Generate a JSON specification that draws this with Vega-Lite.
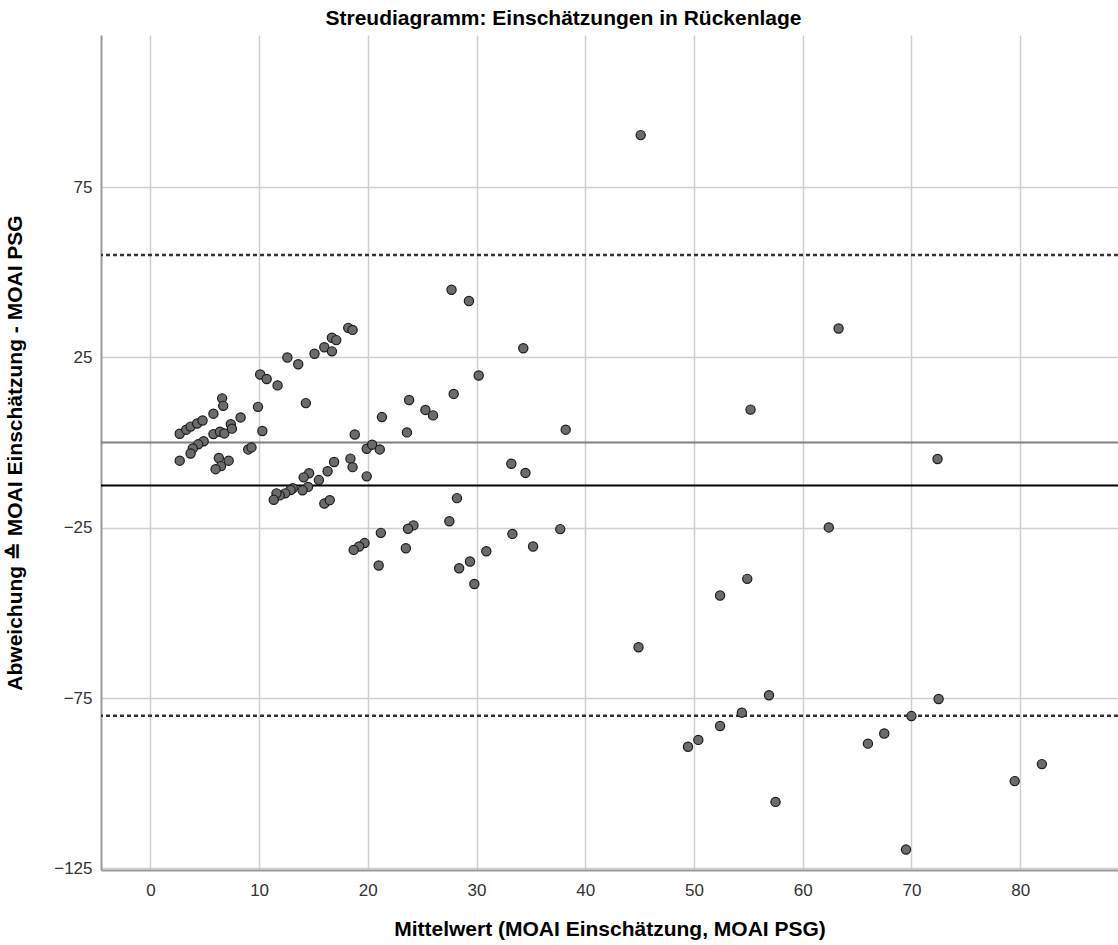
{
  "$schema": "https://vega.github.io/schema/vega-lite/v6.json",
  "width": 1017,
  "height": 835,
  "autosize": {"type": "none"},
  "padding": {"left": 101, "top": 35, "right": 0, "bottom": 75},
  "background": "white",
  "title": {
    "text": "Streudiagramm: Einschätzungen in Rückenlage",
    "font": "Liberation Sans",
    "fontSize": 21,
    "fontWeight": "bold",
    "color": "#000000",
    "anchor": "middle",
    "dx": -46,
    "offset": 6
  },
  "datasets": {
    "points": [
      {"m": 2.7, "d": 2.6}, {"m": 3.3, "d": 3.8}, {"m": 3.7, "d": 4.7}, {"m": 4.3, "d": 5.6}, {"m": 4.8, "d": 6.5},
      {"m": 5.8, "d": 8.5}, {"m": 6.6, "d": 13.0}, {"m": 6.7, "d": 10.8}, {"m": 8.3, "d": 7.4}, {"m": 9.9, "d": 10.5},
      {"m": 10.1, "d": 20.0}, {"m": 10.7, "d": 18.7}, {"m": 11.7, "d": 16.8}, {"m": 12.6, "d": 25.0}, {"m": 13.6, "d": 23.0},
      {"m": 15.1, "d": 26.1}, {"m": 16.0, "d": 28.0}, {"m": 16.7, "d": 30.8}, {"m": 17.1, "d": 30.1}, {"m": 16.7, "d": 26.8},
      {"m": 18.2, "d": 33.7}, {"m": 18.6, "d": 33.1}, {"m": 14.3, "d": 11.6}, {"m": 10.3, "d": 3.4}, {"m": 21.3, "d": 7.5},
      {"m": 18.8, "d": 2.4}, {"m": 5.8, "d": 2.5}, {"m": 6.4, "d": 3.2}, {"m": 6.8, "d": 2.7}, {"m": 7.4, "d": 5.4},
      {"m": 7.5, "d": 4.1}, {"m": 4.9, "d": 0.4}, {"m": 4.4, "d": -0.5}, {"m": 3.9, "d": -1.7}, {"m": 3.7, "d": -3.2},
      {"m": 2.7, "d": -5.3}, {"m": 6.3, "d": -4.5}, {"m": 6.5, "d": -6.9}, {"m": 6.0, "d": -7.8}, {"m": 7.2, "d": -5.3},
      {"m": 9.0, "d": -2.0}, {"m": 9.3, "d": -1.4}, {"m": 19.9, "d": -1.8}, {"m": 20.4, "d": -0.6}, {"m": 21.1, "d": -2.0},
      {"m": 18.4, "d": -4.7}, {"m": 18.6, "d": -7.2}, {"m": 19.9, "d": -9.9}, {"m": 16.9, "d": -5.7}, {"m": 16.3, "d": -8.4},
      {"m": 15.5, "d": -11.0}, {"m": 14.6, "d": -9.0}, {"m": 14.1, "d": -10.2}, {"m": 14.5, "d": -13.0}, {"m": 14.0, "d": -14.0},
      {"m": 13.1, "d": -13.4}, {"m": 12.9, "d": -13.9}, {"m": 12.4, "d": -14.9}, {"m": 11.9, "d": -15.5}, {"m": 11.6, "d": -14.9},
      {"m": 11.35, "d": -16.8}, {"m": 16.0, "d": -17.9}, {"m": 16.5, "d": -16.9}, {"m": 21.2, "d": -26.5}, {"m": 19.7, "d": -29.5},
      {"m": 19.2, "d": -30.5}, {"m": 18.7, "d": -31.5}, {"m": 21.0, "d": -36.1}, {"m": 27.7, "d": 44.9}, {"m": 29.3, "d": 41.6},
      {"m": 34.3, "d": 27.7}, {"m": 30.2, "d": 19.7}, {"m": 27.9, "d": 14.3}, {"m": 23.8, "d": 12.5}, {"m": 25.3, "d": 9.6},
      {"m": 26.0, "d": 8.0}, {"m": 23.6, "d": 3.0}, {"m": 38.2, "d": 3.8}, {"m": 33.2, "d": -6.2}, {"m": 34.5, "d": -8.9},
      {"m": 28.2, "d": -16.3}, {"m": 27.5, "d": -23.1}, {"m": 24.2, "d": -24.3}, {"m": 23.7, "d": -25.3}, {"m": 23.5, "d": -31.0},
      {"m": 33.3, "d": -26.8}, {"m": 35.2, "d": -30.5}, {"m": 37.7, "d": -25.4}, {"m": 30.9, "d": -31.9}, {"m": 29.4, "d": -34.9},
      {"m": 28.4, "d": -36.9}, {"m": 29.8, "d": -41.5}, {"m": 45.1, "d": 90.3}, {"m": 63.3, "d": 33.5}, {"m": 55.2, "d": 9.7},
      {"m": 72.4, "d": -4.8}, {"m": 62.4, "d": -24.9}, {"m": 54.9, "d": -40.0}, {"m": 52.4, "d": -44.9}, {"m": 44.9, "d": -60.1},
      {"m": 56.9, "d": -74.2}, {"m": 54.4, "d": -79.3}, {"m": 52.4, "d": -83.2}, {"m": 50.4, "d": -87.3}, {"m": 49.45, "d": -89.3},
      {"m": 57.5, "d": -105.5}, {"m": 66.0, "d": -88.4}, {"m": 67.5, "d": -85.4}, {"m": 70.0, "d": -80.3}, {"m": 72.5, "d": -75.3},
      {"m": 69.5, "d": -119.5}, {"m": 79.5, "d": -99.4}, {"m": 82.0, "d": -94.4}
    ],
    "lines": [
      {"line": "Null", "d": 0},
      {"line": "Mittelwert", "d": -12.6},
      {"line": "Obere Grenze", "d": 55.1},
      {"line": "Untere Grenze", "d": -80.2}
    ]
  },
  "encoding": {
    "y": {
      "field": "d",
      "type": "quantitative",
      "scale": {"domain": [-125.5, 119.7], "nice": false, "zero": false},
      "axis": {
        "title": "Abweichung ≙ MOAI Einschätzung - MOAI PSG",
        "values": [-125, -75, -25, 25, 75],
        "grid": true,
        "ticks": false,
        "labelPadding": 9,
        "titlePadding": 28
      }
    }
  },
  "layer": [
    {
      "data": {"name": "lines"},
      "mark": {"type": "rule"},
      "encoding": {
        "color": {
          "field": "line",
          "type": "nominal",
          "scale": {"domain": ["Null", "Mittelwert", "Obere Grenze", "Untere Grenze"], "range": ["#7f7f7f", "#000000", "#333333", "#333333"]},
          "legend": null
        },
        "strokeDash": {
          "field": "line",
          "type": "nominal",
          "scale": {"domain": ["Null", "Mittelwert", "Obere Grenze", "Untere Grenze"], "range": [[1, 0], [1, 0], [4, 3], [4, 3]]},
          "legend": null
        },
        "strokeWidth": {
          "field": "line",
          "type": "nominal",
          "scale": {"domain": ["Null", "Mittelwert", "Obere Grenze", "Untere Grenze"], "range": [2, 2.5, 2, 2]},
          "legend": null
        }
      }
    },
    {
      "data": {"name": "points"},
      "mark": {"type": "point", "filled": true, "fill": "#6b6b6b", "stroke": "#1c1c1c", "strokeWidth": 1.2, "size": 85, "opacity": 1, "fillOpacity": 1, "strokeOpacity": 1},
      "encoding": {
        "x": {
          "field": "m",
          "type": "quantitative",
          "scale": {"domain": [-4.54, 89.0], "nice": false, "zero": false},
          "axis": {
            "title": "Mittelwert (MOAI Einschätzung, MOAI PSG)",
            "values": [0, 10, 20, 30, 40, 50, 60, 70, 80],
            "grid": true,
            "ticks": false,
            "labelPadding": 12,
            "titlePadding": 20
          }
        }
      }
    }
  ],
  "config": {
    "view": {"stroke": null},
    "axis": {
      "domainColor": "#9a9a9a",
      "domainWidth": 2,
      "gridColor": "#cfcfcf",
      "gridWidth": 1.5,
      "labelFont": "Liberation Sans",
      "labelFontSize": 17,
      "labelColor": "#333333",
      "titleFont": "Liberation Sans",
      "titleFontSize": 21,
      "titleFontWeight": "bold",
      "titleColor": "#000000"
    }
  }
}
